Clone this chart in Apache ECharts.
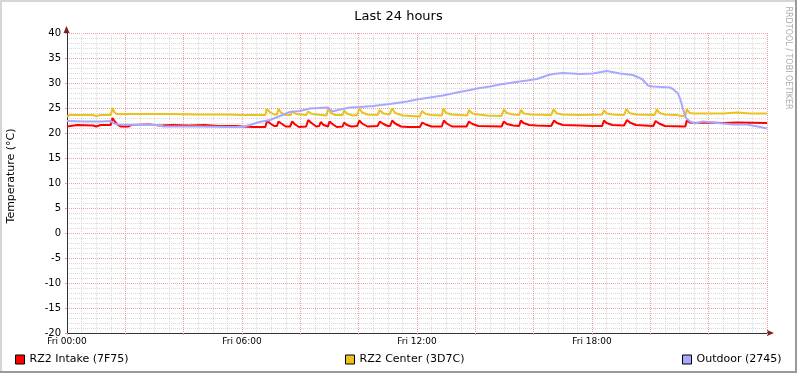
<!DOCTYPE html>
<html>
<head>
<meta charset="utf-8">
<script src="https://cdn.jsdelivr.net/npm/echarts@6/dist/echarts.min.js"></script>
<style>
html,body{margin:0;padding:0;background:#fff;}
#chart{width:797px;height:373px;}
</style>
</head>
<body>
<div id="chart"></div>
<script>
// ---- data (hours since Fri 00:00, °C) ----
const chartTitle = 'Last 24 hours';
const yAxisTitle = 'Temperature (°C)';
const watermark = 'RRDTOOL / TOBI OETIKER';
const seriesNames = ['RZ2 Intake (7F75)', 'RZ2 Center (3D7C)', 'Outdoor (2745)'];
const xTickHours = [0, 6, 12, 18];
const xTickLabels = ['Fri 00:00', 'Fri 06:00', 'Fri 12:00', 'Fri 18:00'];
const yMin = -20, yMax = 40, yStep = 5;

const intake = [
[0,21.3],[0.35,21.6],[0.9,21.5],[1.0,21.3],[1.15,21.6],[1.5,21.6],[1.56,23.0],[1.65,22.2],[1.75,21.6],[1.85,21.3],
[2.1,21.3],[2.2,21.6],[2.8,21.7],[3.2,21.5],[3.6,21.6],[4.2,21.5],[4.7,21.6],[5.2,21.4],[5.8,21.4],[6.0,21.3],
[6.4,21.2],[6.8,21.2],[6.86,22.5],[6.95,22.0],[7.1,21.4],[7.2,21.4],[7.25,22.3],[7.35,21.9],[7.5,21.3],[7.65,21.3],
[7.72,22.3],[7.8,21.8],[7.95,21.2],[8.2,21.3],[8.27,22.6],[8.38,22.0],[8.55,21.3],[8.65,21.4],[8.7,22.2],[8.8,21.6],
[8.95,21.3],[9.0,22.3],[9.1,21.8],[9.25,21.2],[9.45,21.3],[9.5,22.1],[9.6,21.6],[9.75,21.3],[9.95,21.4],[10.02,22.5],
[10.12,21.9],[10.3,21.3],[10.65,21.4],[10.73,22.3],[10.85,21.8],[11.0,21.4],[11.08,21.4],[11.15,22.5],[11.25,21.9],[11.45,21.3],
[11.7,21.2],[12.1,21.2],[12.18,22.1],[12.3,21.7],[12.5,21.3],[12.85,21.3],[12.92,22.5],[13.02,21.9],[13.2,21.3],[13.7,21.3],
[13.78,22.3],[13.9,21.8],[14.1,21.4],[14.9,21.3],[14.98,22.3],[15.08,21.8],[15.3,21.5],[15.5,21.4],[15.56,22.5],[15.65,22.0],
[15.85,21.6],[16.1,21.5],[16.6,21.4],[16.7,22.5],[16.8,22.0],[17.0,21.6],[17.6,21.5],[18.0,21.4],[18.35,21.4],[18.41,22.5],
[18.5,22.0],[18.7,21.6],[19.1,21.5],[19.2,22.6],[19.3,22.1],[19.5,21.6],[20.1,21.4],[20.18,22.4],[20.3,21.9],[20.5,21.4],
[21.2,21.3],[21.25,22.5],[21.35,22.1],[21.5,22.0],[22.0,22.1],[22.5,22.0],[23.0,22.1],[24.0,22.0]
];

const center = [
[0,23.3],[0.1,23.6],[0.9,23.6],[1.0,23.4],[1.15,23.6],[1.5,23.6],[1.56,25.0],[1.62,24.2],[1.7,23.8],[2.5,23.8],
[3.5,23.8],[4.5,23.7],[5.5,23.7],[6.0,23.6],[6.8,23.6],[6.85,24.8],[6.95,24.2],[7.1,23.7],[7.2,23.7],[7.25,24.8],
[7.35,24.0],[7.5,23.6],[7.68,23.6],[7.72,24.4],[7.85,23.8],[8.2,23.6],[8.27,24.3],[8.4,23.8],[8.9,23.5],[8.95,24.8],
[9.05,24.0],[9.2,23.6],[9.45,23.6],[9.5,24.5],[9.6,23.9],[9.8,23.5],[9.95,23.6],[10.02,24.9],[10.12,24.1],[10.3,23.7],
[10.65,23.6],[10.72,24.6],[10.85,23.9],[11.05,23.7],[11.1,23.7],[11.15,24.9],[11.25,24.0],[11.5,23.5],[12.1,23.3],[12.17,24.4],
[12.3,23.8],[12.5,23.6],[12.85,23.5],[12.9,24.9],[13.0,24.0],[13.2,23.7],[13.72,23.5],[13.78,24.6],[13.9,23.9],[14.1,23.7],
[14.4,23.5],[14.9,23.4],[14.98,24.7],[15.08,24.0],[15.3,23.7],[15.5,23.6],[15.56,24.6],[15.66,23.9],[15.9,23.7],[16.6,23.6],
[16.68,24.7],[16.8,23.9],[17.0,23.7],[17.6,23.6],[18.35,23.7],[18.41,24.6],[18.5,23.9],[18.7,23.7],[19.1,23.6],[19.18,24.8],
[19.28,24.0],[19.5,23.7],[20.15,23.6],[20.22,24.7],[20.32,24.0],[20.5,23.7],[20.9,23.6],[21.05,23.4],[21.2,23.4],[21.25,24.7],
[21.35,24.0],[21.5,23.9],[22.5,23.9],[23.0,24.1],[23.4,23.9],[24.0,23.9]
];

const outdoor = [
[0,22.4],[0.6,22.3],[1.2,22.3],[1.5,22.4],[1.6,21.9],[1.75,21.7],[2.5,21.6],[3.2,21.6],[3.3,21.3],[4.5,21.3],
[5.5,21.2],[6.0,21.2],[6.27,21.6],[6.6,22.2],[6.96,22.6],[7.3,23.4],[7.64,24.2],[7.99,24.4],[8.33,24.9],[8.95,25.1],
[9.1,24.3],[9.36,24.7],[9.7,25.1],[10.04,25.2],[10.49,25.4],[11.07,25.8],[11.66,26.3],[12.0,26.7],[12.44,27.1],[12.89,27.5],
[13.37,28.1],[13.82,28.6],[14.16,29.0],[14.5,29.3],[14.84,29.7],[15.29,30.1],[15.77,30.5],[16.11,30.8],[16.46,31.5],[16.66,31.8],
[17.0,32.0],[17.59,31.8],[18.03,31.9],[18.51,32.4],[18.96,31.9],[19.4,31.6],[19.71,30.8],[19.92,29.5],[20.09,29.3],[20.67,29.1],
[20.77,28.8],[20.95,27.9],[21.05,26.3],[21.12,24.8],[21.22,23.0],[21.36,22.3],[21.53,21.9],[21.8,22.3],[22.15,22.1],[22.49,21.9],
[22.83,21.7],[23.31,21.7],[23.76,21.2],[24.0,20.9]
];

const colors = ['#ff0000', '#e9c21d', '#a8a8ff'];

const FONT = '"DejaVu Sans", sans-serif';
const chart = echarts.init(document.getElementById('chart'), null, {renderer: 'canvas'});

function legendAt(i, left) {
  return {
    data: [{name: seriesNames[i], icon: 'rect', itemStyle: {color: colors[i], borderColor: '#000', borderWidth: 1}}],
    left: left, top: 354, itemWidth: 9, itemHeight: 9, itemGap: 0, padding: 0,
    selectedMode: false,
    textStyle: {fontFamily: FONT, fontSize: 11, color: '#000', padding: [0,0,0,0]}
  };
}

const majorGrid = {color: '#e8a0a0', type: [1, 1], width: 1};
const minorGrid = {color: '#d9d9d9', type: [1, 1], width: 1};

const option = {
  animation: false,
  backgroundColor: '#ffffff',
  textStyle: {fontFamily: FONT},
  title: {
    text: chartTitle, left: 'center', top: 5,
    textStyle: {fontFamily: FONT, fontSize: 13, fontWeight: 'normal', color: '#000'}
  },
  legend: [legendAt(0, 15), legendAt(1, 345), legendAt(2, 682)],
  grid: {left: 67, right: 30, top: 33, bottom: 40, containLabel: false},
  xAxis: {
    type: 'value', min: 0, max: 24, interval: 2,
    axisLine: {show: true, onZero: false, lineStyle: {color: '#333', width: 1}},
    axisTick: {show: true, length: 2, lineStyle: {color: '#e8a0a0'}},
    minorTick: {show: false, splitNumber: 4},
    axisLabel: {
      fontFamily: FONT, fontSize: 9, color: '#000', margin: 4,
      formatter: function (v) { const k = xTickHours.indexOf(v); return k >= 0 ? xTickLabels[k] : ''; }
    },
    splitLine: {show: true, lineStyle: majorGrid},
    minorSplitLine: {show: true, lineStyle: minorGrid}
  },
  yAxis: {
    type: 'value', min: yMin, max: yMax, interval: yStep,
    axisLine: {show: true, onZero: false, lineStyle: {color: '#333', width: 1}},
    axisTick: {show: true, length: 2, lineStyle: {color: '#e8a0a0'}},
    minorTick: {show: false, splitNumber: 5},
    axisLabel: {fontFamily: FONT, fontSize: 10, color: '#000', margin: 6},
    splitLine: {show: true, lineStyle: majorGrid},
    minorSplitLine: {show: true, lineStyle: minorGrid}
  },
  series: [
    {name: seriesNames[0], type: 'line', data: intake, showSymbol: false, symbol: 'none', color: colors[0], lineStyle: {width: 2, color: colors[0]}},
    {name: seriesNames[1], type: 'line', data: center, showSymbol: false, symbol: 'none', color: colors[1], lineStyle: {width: 2, color: colors[1]}},
    {name: seriesNames[2], type: 'line', data: outdoor, showSymbol: false, symbol: 'none', color: colors[2], lineStyle: {width: 2, color: colors[2]}}
  ],
  graphic: [
    // frame
    {type: 'rect', shape: {x: 0, y: 0, width: 797, height: 2}, style: {fill: '#d6d6d6'}, silent: true},
    {type: 'rect', shape: {x: 0, y: 0, width: 2, height: 373}, style: {fill: '#d6d6d6'}, silent: true},
    {type: 'rect', shape: {x: 795, y: 0, width: 2, height: 373}, style: {fill: '#9a9a9a'}, silent: true},
    {type: 'rect', shape: {x: 0, y: 371, width: 797, height: 2}, style: {fill: '#9a9a9a'}, silent: true},
    // arrows
    {type: 'polygon', shape: {points: [[63.5, 33], [69.5, 33], [66.5, 26]]}, style: {fill: '#7f1f1f'}, silent: true},
    {type: 'polygon', shape: {points: [[767, 330], [767, 336], [774, 333]]}, style: {fill: '#7f1f1f'}, silent: true},
    // y title
    {type: 'text', x: 11, y: 176, rotation: Math.PI / 2,
      style: {text: yAxisTitle, fontFamily: FONT, fontSize: 11, fill: '#000', align: 'center', verticalAlign: 'middle'}},
    // watermark
    {type: 'text', x: 788, y: 58, rotation: -Math.PI / 2,
      style: {text: watermark, fontFamily: FONT, fontSize: 8, fill: '#aaaaaa', align: 'center', verticalAlign: 'middle'}}
  ]
};
chart.setOption(option);
</script>
</body>
</html>
